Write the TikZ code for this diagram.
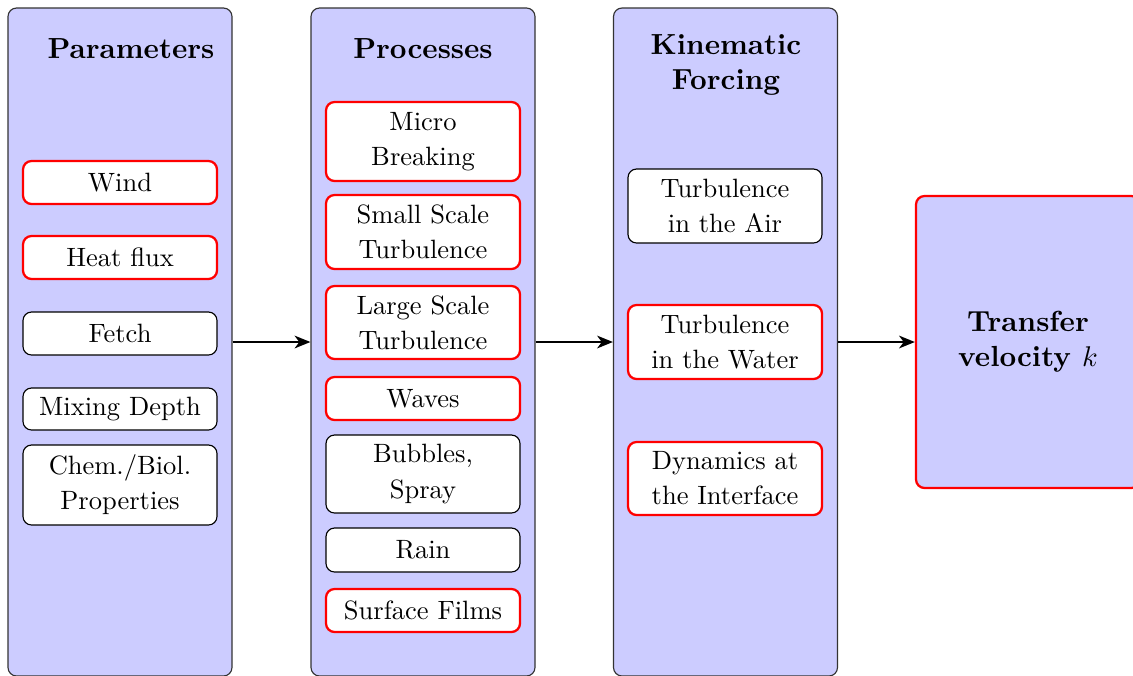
\documentclass[tikz,border=0pt]{standalone}
\usepackage{fontspec}
\usetikzlibrary{arrows.meta}
% body text keeps the 10pt design of Latin Modern at a reduced size
\newfontfamily\bodyfont{lmroman10-regular.otf}
\newcommand\pxu{0.3509pt}
\tikzset{
  col/.style={draw=black!80, fill=blue!20, rounded corners=3pt, line width=0.4pt,
    minimum width=224*\pxu, minimum height=668*\pxu, inner sep=0pt},
  item/.style={draw=black, fill=white, rounded corners=3pt, line width=0.4pt,
    align=center, minimum width=194*\pxu, inner sep=0pt,
    font=\bodyfont\fontsize{9.3}{12.3}\selectfont},
  hot/.style={item, draw=red, line width=0.8pt},
  ttl/.style={font=\fontsize{10.2}{12.3}\selectfont\bfseries, align=center},
  flow/.style={-{Stealth[length=5.5pt,width=4.4pt,inset=1.6pt]}, line width=1pt}
}
\begin{document}
\begin{tikzpicture}[x=\pxu, y=-\pxu]
\useasboundingbox (0,0) rectangle (1133,675);

% the three columns
\node[col] (pcol) at (120,342) {};
\node[col] (qcol) at (423,342) {};
\node[col] (kcol) at (725.5,342) {};

% result box
\node[col, draw=red, line width=0.8pt, minimum height=292*\pxu, align=center,
  font=\fontsize{10.2}{12.3}\selectfont\bfseries] (tv) at (1028,342)
  {Transfer\\velocity $k$};

% column titles
\node[ttl] (pt) at (131,49) {Parameters};
\node[ttl] (qt) at (423,49) {Processes};
\node[ttl] (kt) at (726,64.5) {Kinematic\\Forcing};

% parameters
\node[hot,  minimum height=43*\pxu] (wind)  at (120,182.5) {Wind};
\node[hot,  minimum height=43*\pxu] (heat)  at (120,257.5) {Heat flux};
\node[item, minimum height=43*\pxu] (fetch) at (120,333.5) {Fetch};
\node[item, minimum height=42*\pxu] (mix)   at (120,409)   {Mixing Depth};
\node[item, minimum height=80*\pxu] (chem)  at (120,485)   {Chem./Biol.\\Properties};

% processes
\node[hot,  minimum height=79*\pxu] (micro)  at (423,141.5) {Micro\\Breaking};
\node[hot,  minimum height=74*\pxu] (small)  at (423,232)   {Small Scale\\Turbulence};
\node[hot,  minimum height=73*\pxu] (large)  at (423,322.5) {Large Scale\\Turbulence};
\node[hot,  minimum height=43*\pxu] (waves)  at (423,398.5) {Waves};
\node[item, minimum height=78*\pxu] (bubble) at (423,474)   {Bubbles,\\Spray};
\node[item, minimum height=44*\pxu] (rain)   at (423,550)   {Rain};
\node[hot,  minimum height=43*\pxu] (films)  at (423,610.5) {Surface Films};

% kinematic forcing
\node[item, minimum height=74*\pxu] (air)   at (725,206)   {Turbulence\\in the Air};
\node[hot,  minimum height=74*\pxu] (water) at (725,342)   {Turbulence\\in the Water};
\node[hot,  minimum height=73*\pxu] (iface) at (725,478.5) {Dynamics at\\the Interface};

% flow between the stages
\draw[flow] (pcol.east |- tv.west) -- (qcol.west |- tv.west);
\draw[flow] (qcol.east |- tv.west) -- (kcol.west |- tv.west);
\draw[flow] (kcol.east |- tv.west) -- (tv.west);
\end{tikzpicture}
\end{document}
